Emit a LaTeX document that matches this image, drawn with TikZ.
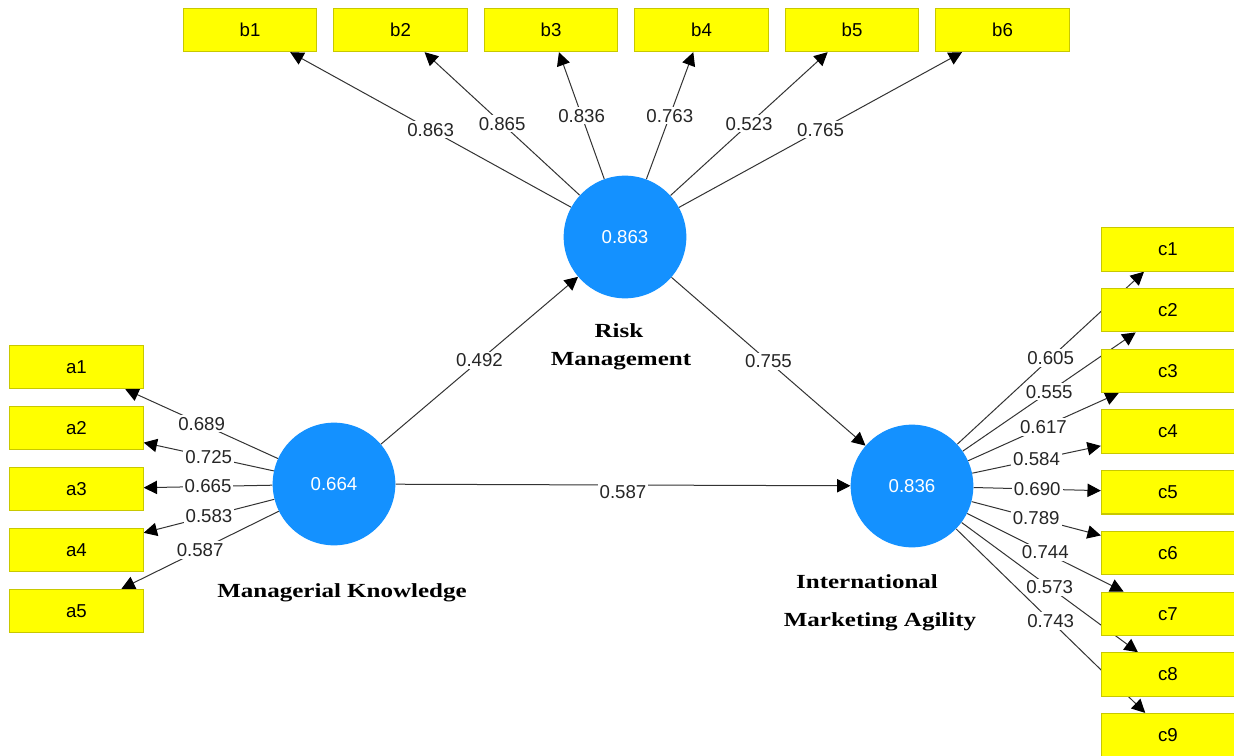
\documentclass[tikz,border=0pt]{standalone}
\usepackage{fontspec}
\setmainfont{Liberation Sans}
\newfontfamily\lvfont[FakeStretch=1.25]{Liberation Serif}
\usetikzlibrary{arrows.meta,backgrounds}
\definecolor{plsyellow}{RGB}{255,255,0}
\definecolor{plsborder}{RGB}{200,200,0}
\definecolor{plsblue}{RGB}{20,145,255}

\begin{document}
\begin{tikzpicture}[x=0.75pt, y=-0.75pt, >={Triangle[length=10pt,width=10pt,color=black]},
	font=\fontsize{14}{16}\selectfont,
	indicator/.style={draw=plsborder, fill=plsyellow, line width=0.8pt, minimum width=100pt, minimum height=32.5pt, inner sep=0pt},
	latent/.style={circle, fill=plsblue, text=white, minimum size=92pt, inner sep=0pt},
	loading/.style={fill=white, inner sep=1.5pt, text=black!85},
	pathline/.style={->, line width=0.75pt, black!80},
	lvname/.style={font=\lvfont\bfseries\fontsize{15}{17}\selectfont}]
	
	% 画布范围
	\clip (0,0) rectangle (1234,756);
	
	% 潜变量
	\node[latent] (rm) at (625,237) {0.863};
	\node[latent] (mk) at (334,484) {0.664};
	\node[latent] (ima) at (912,486) {0.836};
	
	\node[lvname] (rmname1) at (619,331) {Risk};
	\node[lvname] (rmname2) at (621,361) {Management};
	\node[lvname] (mkname) at (342,593) {Managerial Knowledge};
	\node[lvname] (imaname1) at (867,582) {International};
	\node[lvname] (imaname2) at (880,622) {Marketing Agility};
	
	% 指标
	\foreach \i in {1,...,6}
		\node[indicator] (b\i) at ({250+150.5*(\i-1)},30) {b\i};
	\foreach \i in {1,...,5}
		\node[indicator] (a\i) at (76.5,{367+61*(\i-1)}) {a\i};
	\foreach \i in {1,...,9}
		\node[indicator] (c\i) at (1168,{249.5+60.7*(\i-1)}) {c\i};
	
	% 路径与载荷
	\begin{scope}[on background layer]
		\fill[white] (0,0) rectangle (1234,756);
		\foreach \i/\v in {1/0.863, 2/0.865, 3/0.836, 4/0.763, 5/0.523, 6/0.765}
			\draw[pathline] (rm) -- node[loading] {\v} (b\i);
		\foreach \i/\v in {1/0.689, 2/0.725, 3/0.665, 4/0.583, 5/0.587}
			\draw[pathline] (mk) -- node[loading] {\v} (a\i);
		\foreach \i/\v in {1/0.605, 2/0.555, 3/0.617, 4/0.584, 5/0.690, 6/0.789, 7/0.744, 8/0.573, 9/0.743}
			\draw[pathline] (ima) -- node[loading] {\v} (c\i);
		
		\draw[pathline] (mk) -- node[loading] {0.492} (rm);
		\draw[pathline] (rm) -- node[loading] {0.755} (ima);
		\draw[pathline] (mk) -- node[loading, yshift=-5pt] {0.587} (ima);
	\end{scope}
\end{tikzpicture}
\end{document}
